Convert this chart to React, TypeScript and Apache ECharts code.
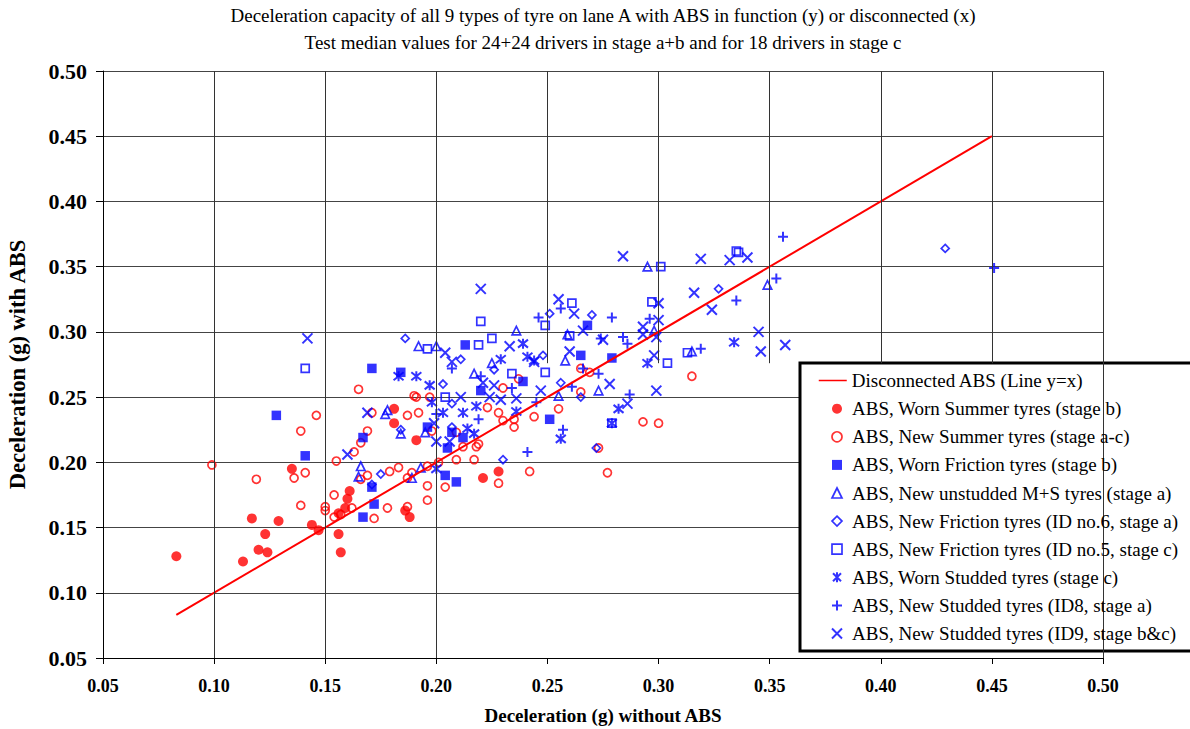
import React, { useEffect, useRef } from "react";
import * as echarts from "echarts";

const FONT = "'Liberation Serif', 'Times New Roman', Times, serif";
const RED = "#ff0000";
const BLUE = "#0000ff";

const titleLines = [
  "Deceleration capacity of all 9 types of tyre on lane A with ABS in function (y) or disconnected (x)",
  "Test median values for 24+24 drivers in stage a+b and for 18 drivers in stage c",
];
const xAxisName = "Deceleration (g) without ABS";
const yAxisName = "Deceleration (g) with ABS";

const axisTicks = [0.05, 0.1, 0.15, 0.2, 0.25, 0.3, 0.35, 0.4, 0.45, 0.5];
const lineEnds = [0.083, 0.45];

const wornSummer = [
  [0.083, 0.128], [0.135, 0.195], [0.117, 0.157], [0.129, 0.155], [0.144, 0.152], [0.147, 0.148],
  [0.123, 0.145], [0.12, 0.133], [0.124, 0.131], [0.113, 0.124], [0.161, 0.178], [0.16, 0.172],
  [0.159, 0.165], [0.156, 0.161], [0.156, 0.145], [0.157, 0.131], [0.181, 0.241], [0.181, 0.23],
  [0.191, 0.217], [0.186, 0.163], [0.188, 0.158], [0.228, 0.193], [0.221, 0.188],
];
const newSummer = [
  [0.146, 0.236], [0.139, 0.224], [0.155, 0.201], [0.099, 0.198], [0.136, 0.188], [0.141, 0.192],
  [0.119, 0.187], [0.154, 0.175], [0.139, 0.167], [0.15, 0.166], [0.15, 0.163], [0.154, 0.158],
  [0.165, 0.256], [0.19, 0.251], [0.191, 0.25], [0.197, 0.25], [0.23, 0.257], [0.171, 0.238],
  [0.187, 0.236], [0.192, 0.238], [0.198, 0.224], [0.169, 0.224], [0.166, 0.215], [0.163, 0.208],
  [0.228, 0.238], [0.23, 0.232], [0.235, 0.233], [0.235, 0.227], [0.244, 0.235], [0.209, 0.223],
  [0.212, 0.212], [0.218, 0.212], [0.219, 0.214], [0.201, 0.2], [0.209, 0.202], [0.217, 0.202],
  [0.242, 0.193], [0.228, 0.184], [0.204, 0.181], [0.196, 0.182], [0.196, 0.171], [0.196, 0.197],
  [0.189, 0.192], [0.187, 0.188], [0.183, 0.196], [0.179, 0.193], [0.169, 0.19], [0.166, 0.187],
  [0.162, 0.165], [0.157, 0.16], [0.178, 0.165], [0.187, 0.166], [0.172, 0.157], [0.265, 0.272],
  [0.269, 0.269], [0.315, 0.266], [0.265, 0.254], [0.255, 0.241], [0.293, 0.231], [0.3, 0.23],
  [0.273, 0.211], [0.277, 0.192], [0.237, 0.264], [0.223, 0.242],
];
const wornFriction = [
  [0.128, 0.236], [0.141, 0.205], [0.22, 0.255], [0.239, 0.262], [0.196, 0.227], [0.167, 0.219],
  [0.207, 0.223], [0.212, 0.219], [0.205, 0.211], [0.204, 0.19], [0.209, 0.185], [0.171, 0.181],
  [0.172, 0.168], [0.167, 0.158], [0.213, 0.29], [0.171, 0.272], [0.184, 0.269], [0.251, 0.233],
  [0.268, 0.305], [0.265, 0.282], [0.279, 0.28],
];
const newUnstudded = [
  [0.177, 0.237], [0.178, 0.24], [0.184, 0.222], [0.195, 0.223], [0.193, 0.196], [0.189, 0.188],
  [0.166, 0.197], [0.165, 0.189], [0.236, 0.301], [0.192, 0.289], [0.2, 0.289], [0.225, 0.276],
  [0.217, 0.268], [0.258, 0.278], [0.273, 0.255], [0.255, 0.251], [0.295, 0.35], [0.349, 0.336],
  [0.259, 0.298], [0.298, 0.301], [0.315, 0.285],
];
const newFrictionId6 = [
  [0.203, 0.26], [0.207, 0.245], [0.184, 0.225], [0.207, 0.227], [0.23, 0.202], [0.175, 0.191],
  [0.171, 0.183], [0.186, 0.295], [0.211, 0.279], [0.226, 0.271], [0.256, 0.261], [0.265, 0.25],
  [0.272, 0.211], [0.327, 0.333], [0.251, 0.314], [0.27, 0.313], [0.248, 0.282], [0.429, 0.364],
];
const newFrictionId5 = [
  [0.204, 0.25], [0.22, 0.308], [0.196, 0.287], [0.219, 0.29], [0.225, 0.295], [0.234, 0.268],
  [0.249, 0.269], [0.304, 0.276], [0.279, 0.23], [0.335, 0.362], [0.336, 0.361], [0.301, 0.35],
  [0.297, 0.323], [0.261, 0.322], [0.249, 0.305], [0.26, 0.297], [0.313, 0.284], [0.141, 0.272],
];
const wornStudded = [
  [0.197, 0.259], [0.198, 0.246], [0.203, 0.238], [0.212, 0.238], [0.218, 0.243], [0.236, 0.239],
  [0.214, 0.226], [0.217, 0.222], [0.2, 0.195], [0.239, 0.291], [0.241, 0.281], [0.244, 0.278],
  [0.183, 0.266], [0.191, 0.266], [0.229, 0.279], [0.295, 0.276], [0.282, 0.241], [0.279, 0.23],
  [0.256, 0.218], [0.334, 0.292],
];
const newStuddedId8 = [
  [0.2, 0.237], [0.219, 0.233], [0.234, 0.257], [0.245, 0.246], [0.241, 0.208], [0.207, 0.272],
  [0.22, 0.266], [0.246, 0.311], [0.266, 0.272], [0.273, 0.268], [0.261, 0.258], [0.287, 0.252],
  [0.257, 0.225], [0.356, 0.373], [0.353, 0.341], [0.335, 0.324], [0.256, 0.318], [0.279, 0.311],
  [0.274, 0.295], [0.284, 0.296], [0.286, 0.291], [0.296, 0.31], [0.319, 0.287], [0.451, 0.349],
];
const newStuddedId9 = [
  [0.142, 0.295], [0.22, 0.333], [0.204, 0.284], [0.207, 0.277], [0.233, 0.289], [0.221, 0.261],
  [0.226, 0.259], [0.211, 0.25], [0.224, 0.25], [0.229, 0.248], [0.236, 0.249], [0.169, 0.238],
  [0.199, 0.23], [0.2, 0.216], [0.206, 0.216], [0.16, 0.206], [0.278, 0.26], [0.247, 0.255],
  [0.299, 0.255], [0.286, 0.245], [0.284, 0.358], [0.319, 0.356], [0.332, 0.355], [0.34, 0.357],
  [0.316, 0.33], [0.324, 0.317], [0.3, 0.322], [0.255, 0.325], [0.262, 0.314], [0.266, 0.301],
  [0.275, 0.294], [0.293, 0.304], [0.3, 0.309], [0.299, 0.296], [0.293, 0.298], [0.345, 0.3],
  [0.357, 0.29], [0.346, 0.285], [0.298, 0.282], [0.26, 0.285], [0.244, 0.277],
];

const PLUS = "path://M5,0L5,10M0,5L10,5";
const CROSS = "path://M1,1L9,9M9,1L1,9";
const STAR = "path://M1,1L9,9M9,1L1,9M5,0L5,10";

type Def = { name: string; data: number[][]; symbol: string; size: number; filled: boolean; color: string; lw: number };

const seriesDefs: Def[] = [
  { name: "ABS, Worn Summer tyres (stage b)", data: wornSummer, symbol: "circle", size: 10, filled: true, color: RED, lw: 0 },
  { name: "ABS, New Summer tyres (stage a-c)", data: newSummer, symbol: "circle", size: 8, filled: false, color: RED, lw: 1.7 },
  { name: "ABS, Worn Friction tyres (stage b)", data: wornFriction, symbol: "rect", size: 9.5, filled: true, color: BLUE, lw: 0 },
  { name: "ABS, New unstudded M+S tyres (stage a)", data: newUnstudded, symbol: "triangle", size: 8.5, filled: false, color: BLUE, lw: 1.7 },
  { name: "ABS, New Friction tyres (ID no.6, stage a)", data: newFrictionId6, symbol: "diamond", size: 8, filled: false, color: BLUE, lw: 1.7 },
  { name: "ABS, New Friction tyres (ID no.5, stage c)", data: newFrictionId5, symbol: "rect", size: 8, filled: false, color: BLUE, lw: 1.7 },
  { name: "ABS, Worn Studded tyres (stage c)", data: wornStudded, symbol: STAR, size: 10, filled: false, color: BLUE, lw: 2 },
  { name: "ABS, New Studded tyres (ID8, stage a)", data: newStuddedId8, symbol: PLUS, size: 10, filled: false, color: BLUE, lw: 2 },
  { name: "ABS, New Studded tyres (ID9, stage b&c)", data: newStuddedId9, symbol: CROSS, size: 10, filled: false, color: BLUE, lw: 2 },
];

const LINE_NAME = "Disconnected ABS (Line y=x)";
const GRID_CUT = 0.276;

function styleOf(d: Def) {
  return d.filled
    ? { color: d.color, borderColor: d.color, borderWidth: 0 }
    : { color: "rgba(0,0,0,0)", borderColor: d.color, borderWidth: d.lw };
}

const legendText = { fontFamily: FONT, fontSize: 19, lineHeight: 20, color: "#000" };

export default function App() {
  const ref = useRef<HTMLDivElement>(null);
  useEffect(() => {
    if (!ref.current) return;
    const chart = echarts.init(ref.current, null, { renderer: "svg" });
    const vLines = axisTicks
      .filter((v) => v > 0.06)
      .map((v) => [
        { coord: [v, v < 0.22 || v > 0.49 ? 0.05 : GRID_CUT] },
        { coord: [v, 0.5] },
      ]);
    const option: any = {
      animation: false,
      backgroundColor: "#fff",
      grid: { left: 103, top: 71, width: 1000, height: 587, containLabel: false, outerBoundsMode: "none" },
      xAxis: {
        type: "value",
        min: 0.05,
        max: 0.5,
        interval: 0.05,
        name: xAxisName,
        nameLocation: "middle",
        nameGap: 48,
        nameTextStyle: { fontFamily: FONT, fontWeight: "bold", fontSize: 19, color: "#000" },
        axisLine: { show: true, onZero: false, lineStyle: { color: "#000", width: 1 } },
        axisTick: { show: true, length: 6, lineStyle: { color: "#000" } },
        axisLabel: {
          formatter: (v: number) => v.toFixed(2),
          fontFamily: FONT,
          fontWeight: "bold",
          fontSize: 18,
          color: "#000",
          margin: 19,
        },
        splitLine: { show: false },
      },
      yAxis: {
        type: "value",
        min: 0.05,
        max: 0.5,
        interval: 0.05,
        name: yAxisName,
        nameLocation: "middle",
        nameGap: 74,
        nameTextStyle: { fontFamily: FONT, fontWeight: "bold", fontSize: 22.5, color: "#000" },
        axisLine: { show: true, onZero: false, lineStyle: { color: "#000", width: 1 } },
        axisTick: { show: true, length: 7, lineStyle: { color: "#000" } },
        axisLabel: {
          formatter: (v: number) => v.toFixed(2),
          fontFamily: FONT,
          fontWeight: "bold",
          fontSize: 22,
          color: "#000",
          margin: 16,
        },
        splitLine: { show: true, lineStyle: { color: "#444", width: 1 } },
      },
      legend: [
        {
          orient: "vertical",
          left: 813,
          top: 365.5,
          z: 6,
          itemWidth: 28,
          itemHeight: 9,
          selectedMode: false,
          textStyle: { ...legendText },
          data: [
            { name: LINE_NAME, lineStyle: { color: RED, width: 1.5 }, itemStyle: { color: "rgba(0,0,0,0)", borderWidth: 0, opacity: 0 } },
          ],
        },
        {
          orient: "vertical",
          left: 826,
          top: 393.7,
          z: 6,
          itemWidth: 10,
          itemHeight: 10,
          itemGap: 8.1,
          selectedMode: false,
          textStyle: { ...legendText, padding: [0, 0, 0, 5] },
          data: seriesDefs.map((d) => ({ name: d.name, itemStyle: styleOf(d) })),
        },
      ],
      graphic: [
        {
          type: "text",
          x: 603,
          y: 15,
          style: { text: titleLines[0], fontFamily: FONT, fontSize: 19, fill: "#000", textAlign: "center", textVerticalAlign: "middle" },
        },
        {
          type: "text",
          x: 603,
          y: 42,
          style: { text: titleLines[1], fontFamily: FONT, fontSize: 19, fill: "#000", textAlign: "center", textVerticalAlign: "middle" },
        },
        {
          type: "rect",
          z: 5,
          shape: { x: 800, y: 363, width: 420, height: 288 },
          style: { fill: "#fff", stroke: "#000", lineWidth: 3 },
        },
      ],
      series: [
        {
          type: "scatter",
          name: "gridlines",
          data: [],
          z: 0,
          silent: true,
          markLine: {
            silent: true,
            symbol: "none",
            label: { show: false },
            lineStyle: { color: "#333", width: 1, type: "solid" },
            emphasis: { disabled: true },
            data: vLines,
          },
        },
        ...seriesDefs.map((d) => ({
          type: "scatter",
          name: d.name,
          data: d.data,
          symbol: d.symbol,
          symbolSize: d.size,
          itemStyle: styleOf(d),
          emphasis: { disabled: true },
          z: 2,
        })),
        {
          type: "line",
          name: LINE_NAME,
          data: lineEnds.map((v) => [v, v]),
          symbol: "none",
          lineStyle: { color: RED, width: 2 },
          itemStyle: { color: RED },
          emphasis: { disabled: true },
          z: 3,
        },
      ],
    };
    chart.setOption(option);
    return () => chart.dispose();
  }, []);
  return <div ref={ref} style={{ position: "absolute", left: 0, top: 0, width: 1190, height: 729 }} />;
}
